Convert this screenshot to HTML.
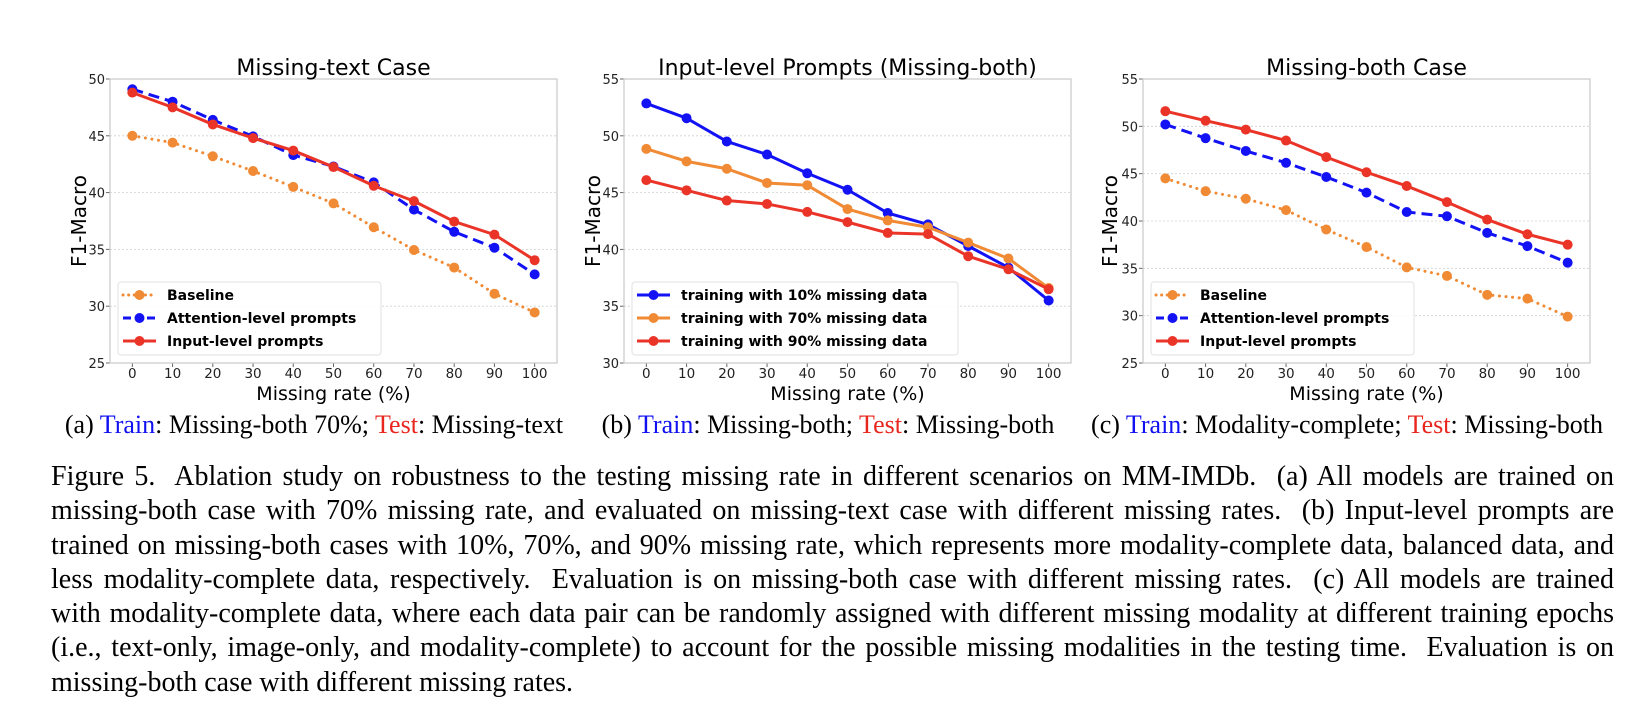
<!DOCTYPE html>
<html><head><meta charset="utf-8">
<style>
html,body{margin:0;padding:0;background:#fff;width:1640px;height:722px;overflow:hidden;}
svg{position:absolute;left:0;top:0;}
.cap{position:absolute;font-family:"Liberation Serif",serif;color:#000;white-space:nowrap;}
.sub{font-size:26px;top:410px;width:600px;text-align:center;}
.fig{left:51px;width:1563px;font-size:28px;line-height:34.3px;top:460px;}
.fig div{text-align:justify;text-align-last:justify;white-space:normal;height:34.3px;overflow:hidden;}
.fig div.last{text-align-last:left;}
.b{color:#1010f0}.r{color:#e8261e}
</style></head><body>
<svg id="chart" width="1640" height="722"></svg>
<div class="cap sub" style="left:14px">(a) <span class="b">Train</span>: Missing-both 70%; <span class="r">Test</span>: Missing-text</div>
<div class="cap sub" style="left:528px">(b) <span class="b">Train</span>: Missing-both; <span class="r">Test</span>: Missing-both</div>
<div class="cap sub" style="left:1047px">(c) <span class="b">Train</span>: Modality-complete; <span class="r">Test</span>: Missing-both</div>
<div class="cap fig">
<div>Figure 5.&nbsp; Ablation study on robustness to the testing missing rate in different scenarios on MM-IMDb.&nbsp; (a) All models are trained on</div>
<div>missing-both case with 70% missing rate, and evaluated on missing-text case with different missing rates.&nbsp; (b) Input-level prompts are</div>
<div>trained on missing-both cases with 10%, 70%, and 90% missing rate, which represents more modality-complete data, balanced data, and</div>
<div>less modality-complete data, respectively.&nbsp; Evaluation is on missing-both case with different missing rates.&nbsp; (c) All models are trained</div>
<div>with modality-complete data, where each data pair can be randomly assigned with different missing modality at different training epochs</div>
<div>(i.e., text-only, image-only, and modality-complete) to account for the possible missing modalities in the testing time.&nbsp; Evaluation is on</div>
<div class="last">missing-both case with different missing rates.</div>
</div>
<script>
const categories = [0,10,20,30,40,50,60,70,80,90,100];
const aBaseline = [45,44.4,43.2,41.9,40.5,39.05,36.95,34.95,33.4,31.1,29.45];
const aAttention = [49.1,48.0,46.4,44.95,43.3,42.3,40.9,38.5,36.55,35.15,32.8];
const aInput = [48.8,47.5,46.0,44.8,43.7,42.25,40.6,39.25,37.45,36.3,34.05];
const b10 = [52.85,51.55,49.5,48.35,46.7,45.25,43.2,42.2,40.3,38.4,35.5];
const b70 = [48.85,47.75,47.1,45.85,45.65,43.55,42.55,41.95,40.6,39.2,36.6];
const b90 = [46.1,45.2,44.3,44.0,43.3,42.4,41.45,41.35,39.4,38.25,36.5];
const cInput = [51.6,50.6,49.65,48.5,46.75,45.15,43.7,42.0,40.15,38.6,37.5];
const cAttention = [50.2,48.75,47.4,46.15,44.65,43.0,40.95,40.5,38.75,37.35,35.6];
const cBaseline = [44.5,43.15,42.35,41.15,39.1,37.25,35.1,34.2,32.2,31.8,29.9];
const aTicks = [25,30,35,40,45,50];
const bTicks = [30,35,40,45,50,55];
const cTicks = [25,30,35,40,45,50,55];
const legendA = ["Baseline","Attention-level prompts","Input-level prompts"];
const legendB = ["training with 10% missing data","training with 70% missing data","training with 90% missing data"];

const NS="http://www.w3.org/2000/svg";
const svg=document.getElementById('chart');
const BLUE="#1212f5",ORANGE="#f08a34",RED="#ea3428";
const DEF={solid:null,dash:"11,6",dot:"0.1,6.5"};
function el(tag,attrs,parent,name){const e=document.createElementNS(NS,tag);for(const k in attrs)e.setAttribute(k,attrs[k]);if(name){}(parent||svg).appendChild(e);return e;}
function txt(s,attrs,parent,name){const t=el('text',attrs,parent,name);t.textContent=s;return t;}

function chart(o){
  const g=el('g',{},svg,o.name);
  const L=o.left,R=o.left+447,T=79,B=363;
  const ymin=o.ticks[0],ymax=o.ticks[o.ticks.length-1];
  const xs=v=>L+447*(0.05+0.9*v/100);
  const ys=v=>B-(v-ymin)/(ymax-ymin)*(B-T);
  o.ticks.forEach(t=>{
    const y=ys(t);
    if(t!==ymin&&t!==ymax){const gl=el('line',{x1:L,x2:R,y1:y,y2:y,stroke:"#d0d0d0","stroke-width":0.8,"stroke-dasharray":"2,2"},g);}
    el('line',{x1:L-4,x2:L,y1:y,y2:y,stroke:"#666","stroke-width":1},g);
    const tl=txt(String(t),{x:L-5,y:y+5,"text-anchor":"end","font-family":"DejaVu Sans, sans-serif","font-size":13,fill:"#222"},g);
    
  });
  categories.forEach(c=>{
    const x=xs(c);
    el('line',{x1:x,x2:x,y1:B,y2:B+4,stroke:"#666","stroke-width":1},g);
    const tl=txt(String(c),{x:x,y:B+15,"text-anchor":"middle","font-family":"DejaVu Sans, sans-serif","font-size":13.5,fill:"#222"},g);
    
  });
  el('rect',{x:L,y:T,width:447,height:B-T,fill:"none",stroke:"#c8c8c8","stroke-width":1.2},g,'plot-frame');
  o.series.forEach(s=>{
    const sg=el('g',{},g,s.name);
    const pts=s.data.map((v,i)=>xs(categories[i])+","+ys(v)).join(" ");
    const a={points:pts,fill:"none",stroke:s.color,"stroke-width":3,"stroke-linejoin":"round"};
    if(DEF[s.style]){a["stroke-dasharray"]=DEF[s.style];}
    if(s.style==='dot')a["stroke-linecap"]="round";
    el('polyline',a,sg,s.name+'-line');
    s.data.forEach((v,i)=>{const m=el('circle',{cx:xs(categories[i]),cy:ys(v),r:5,fill:s.color},sg);});
  });
  txt(o.title,{x:(L+R)/2,y:75,"text-anchor":"middle","font-family":"DejaVu Sans, sans-serif","font-size":22,fill:"#000"},g,'chart-title');
  txt("Missing rate (%)",{x:(L+R)/2,y:400,"text-anchor":"middle","font-family":"DejaVu Sans, sans-serif","font-size":19,fill:"#000"},g,'x-axis-title');
  txt("F1-Macro",{x:0,y:0,"text-anchor":"middle","font-family":"DejaVu Sans, sans-serif","font-size":20,fill:"#000",transform:`translate(${o.ylx},221) rotate(-90)`},g,'y-axis-title');
  const lg=el('g',{},g,'legend');
  el('rect',{x:L+8,y:282,width:o.lw,height:73,rx:3,fill:"#fff","fill-opacity":0.85,stroke:"#e2e2e2","stroke-width":1},lg,'legend-box');
  o.series.forEach((s,i)=>{
    const y=295+i*23;
    const eg=el('g',{},lg,'legend-entry');
    const a={x1:L+13,x2:L+46,y1:y,y2:y,stroke:s.color,"stroke-width":3};
    if(DEF[s.style])a["stroke-dasharray"]=s.style==='dash'?"8,4":"0.1,5.5";
    if(s.style==='dot')a["stroke-linecap"]="round";
    el('line',a,eg);
    el('circle',{cx:L+29.5,cy:y,r:5,fill:s.color},eg);
    txt(o.labels[i],{x:L+57,y:y+5,"font-family":"DejaVu Sans, sans-serif","font-size":14,"font-weight":"bold",fill:"#000"},eg);
  });
}
chart({name:'chart-missing-text',left:110,ticks:aTicks,title:"Missing-text Case",ylx:86,lw:263,labels:legendA,
  series:[{name:'baseline',data:aBaseline,color:ORANGE,style:'dot'},{name:'attention-level',data:aAttention,color:BLUE,style:'dash'},{name:'input-level',data:aInput,color:RED,style:'solid'}]});
chart({name:'chart-input-level',left:624,ticks:bTicks,title:"Input-level Prompts (Missing-both)",ylx:600,lw:326,labels:legendB,
  series:[{name:'train-10',data:b10,color:BLUE,style:'solid'},{name:'train-70',data:b70,color:ORANGE,style:'solid'},{name:'train-90',data:b90,color:RED,style:'solid'}]});
chart({name:'chart-missing-both',left:1143,ticks:cTicks,title:"Missing-both Case",ylx:1117,lw:263,labels:legendA,
  series:[{name:'baseline',data:cBaseline,color:ORANGE,style:'dot'},{name:'attention-level',data:cAttention,color:BLUE,style:'dash'},{name:'input-level',data:cInput,color:RED,style:'solid'}]});
</script>
</body></html>
